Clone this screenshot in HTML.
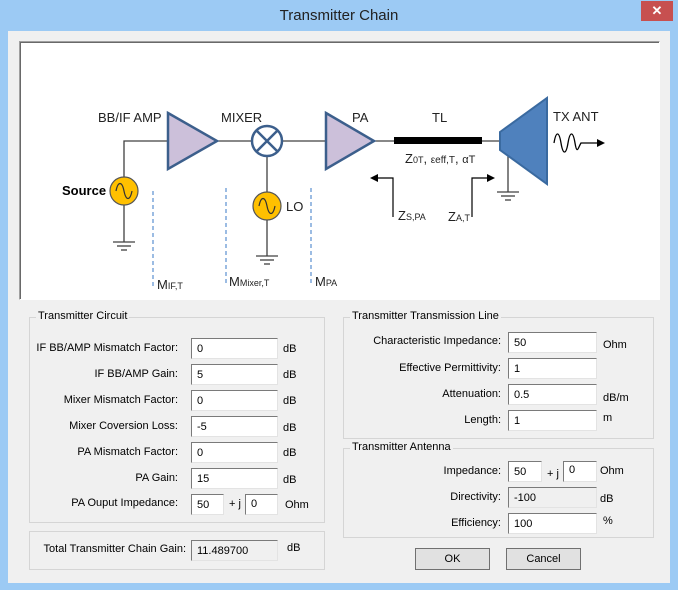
<!DOCTYPE html>
<html><head><meta charset="utf-8"><style>
*{margin:0;padding:0;box-sizing:border-box}
body{width:678px;height:590px;overflow:hidden;background:#9ccaf4;font-family:"Liberation Sans",sans-serif;font-size:11px;color:#000;position:relative}
.a{position:absolute}
.title{left:0;top:7px;width:678px;text-align:center;font-size:15px;color:#222}
.close{left:641px;top:1px;width:32px;height:20px;background:#c75050;color:#fff;text-align:center;font-size:13px;line-height:20px;font-weight:bold}
.client{left:8px;top:31px;width:662px;height:552px;background:#f0f0f0}
.panel{left:19px;top:41px;width:641px;height:259px;background:#fff;border:1px solid #a0a0a0;border-right-color:#fff;border-bottom-color:#fff;box-shadow:inset 1px 1px 0 #696969}
.grp{border:1px solid #d5d5d5}
.lg{background:#f0f0f0;padding:0 2px;top:-8px;left:6px;position:absolute}
.in{height:21px;background:#fff;border:1px solid #7a7a7a;border-right-color:#e3e3e3;border-bottom-color:#e3e3e3;padding:4px 0 0 5px}
.ro{background:#f0f0f0}
.lb{text-align:right}
.btn{height:22px;border:1px solid #707070;background:#e1e1e1;text-align:center;line-height:20px}
</style></head><body>
<div class="a title">Transmitter Chain</div>
<div class="a close">✕</div>
<div class="a client"></div>
<div class="a panel"></div>
<svg class="a" style="left:0;top:0" width="678" height="300" font-family="Liberation Sans, sans-serif">
<g stroke="#404040" stroke-width="1.3" fill="none">
<polyline points="168,141 124,141 124,177"/><line x1="124" y1="205" x2="124" y2="242"/>
<line x1="113" y1="242" x2="135" y2="242"/><line x1="117" y1="246" x2="131" y2="246"/><line x1="121" y1="250" x2="127" y2="250"/>
<line x1="217" y1="141" x2="252" y2="141"/><line x1="282" y1="141" x2="326" y2="141"/>
<line x1="267" y1="156" x2="267" y2="192"/><line x1="267" y1="220" x2="267" y2="256"/>
<line x1="256" y1="256" x2="278" y2="256"/><line x1="260" y1="260" x2="274" y2="260"/><line x1="264" y1="264" x2="270" y2="264"/>
<line x1="374" y1="141" x2="394" y2="141"/><line x1="482" y1="141" x2="500" y2="141"/>
<line x1="508" y1="150" x2="508" y2="192"/>
<line x1="497" y1="192" x2="519" y2="192"/><line x1="501" y1="196" x2="515" y2="196"/><line x1="505" y1="200" x2="511" y2="200"/>
</g>
<polygon points="168,113 217,141 168,169" fill="#ccc0da" stroke="#3c5f8c" stroke-width="2.5"/>
<polygon points="326,113 374,141 326,169" fill="#ccc0da" stroke="#3c5f8c" stroke-width="2.5"/>
<circle cx="267" cy="141" r="15" fill="#fff" stroke="#3c5f8c" stroke-width="2.5"/>
<path d="M256.5,130.5L277.5,151.5M277.5,130.5L256.5,151.5" stroke="#3c5f8c" stroke-width="2.5"/>
<g fill="#ffc000" stroke="#555" stroke-width="1.2"><circle cx="124" cy="191" r="14"/><circle cx="267" cy="206" r="14"/></g>
<g fill="none" stroke="#333" stroke-width="1.2"><path d="M116,191c2,-10 6,-10 8,0s6,10 8,0"/><path d="M259,206c2,-10 6,-10 8,0s6,10 8,0"/></g>
<g stroke="#5b8fd0" stroke-dasharray="4,3" stroke-width="1.2"><line x1="153" y1="191" x2="153" y2="286"/><line x1="226" y1="188" x2="226" y2="283"/><line x1="311" y1="188" x2="311" y2="283"/></g>
<rect x="394" y="137" width="88" height="7" fill="#000"/>
<polygon points="500,132 547,98 547,184 500,150" fill="#4f81bd" stroke="#3a6aa0" stroke-width="2"/>
<path d="M554,143c2,-12 5,-12 7,0s5,12 7,0s5,-12 7,0s3,5 6,0L600,143" fill="none" stroke="#000" stroke-width="1.3"/>
<polygon points="605,143 597,139 597,147"/>
<g stroke="#000" stroke-width="1.2" fill="none"><polyline points="393,217 393,178 375,178"/><polyline points="472,217 472,178 490,178"/></g>
<polygon points="370,178 378,174 378,182"/><polygon points="495,178 487,174 487,182"/>
<g font-size="13" fill="#222">
<text x="98" y="122">BB/IF AMP</text><text x="221" y="122">MIXER</text><text x="352" y="122">PA</text>
<text x="432" y="122">TL</text><text x="553" y="121">TX ANT</text>
<text x="62" y="195" font-weight="bold" fill="#000">Source</text><text x="286" y="211">LO</text>
<text x="157" y="289">M<tspan font-size="9">IF,T</tspan></text>
<text x="229" y="286">M<tspan font-size="9">Mixer,T</tspan></text>
<text x="315" y="286">M<tspan font-size="9">PA</tspan></text>
<text x="405" y="163">Z<tspan font-size="9">0T</tspan>, <tspan font-size="10">εeff,T</tspan>, <tspan font-size="11">αT</tspan></text>
<text x="398" y="220">Z<tspan font-size="9">S,PA</tspan></text>
<text x="448" y="221">Z<tspan font-size="9">A,T</tspan></text>
</g>
</svg>

<div class="a grp" style="left:29px;top:317px;width:296px;height:206px"><span class="lg">Transmitter Circuit</span></div>
<div class="a grp" style="left:29px;top:531px;width:296px;height:39px"></div>

<div class="a lb" style="left:20px;top:342px;width:158px">IF BB/AMP Mismatch Factor:</div>
<div class="a in" style="left:191px;top:338px;width:87px">0</div><div class="a" style="left:283px;top:343px">dB</div>
<div class="a lb" style="left:20px;top:368px;width:158px">IF BB/AMP Gain:</div>
<div class="a in" style="left:191px;top:364px;width:87px">5</div><div class="a" style="left:283px;top:369px">dB</div>
<div class="a lb" style="left:20px;top:394px;width:158px">Mixer Mismatch Factor:</div>
<div class="a in" style="left:191px;top:390px;width:87px">0</div><div class="a" style="left:283px;top:395px">dB</div>
<div class="a lb" style="left:20px;top:420px;width:158px">Mixer Coversion Loss:</div>
<div class="a in" style="left:191px;top:416px;width:87px">-5</div><div class="a" style="left:283px;top:422px">dB</div>
<div class="a lb" style="left:20px;top:446px;width:158px">PA Mismatch Factor:</div>
<div class="a in" style="left:191px;top:442px;width:87px">0</div><div class="a" style="left:283px;top:447px">dB</div>
<div class="a lb" style="left:20px;top:472px;width:158px">PA Gain:</div>
<div class="a in" style="left:191px;top:468px;width:87px">15</div><div class="a" style="left:283px;top:474px">dB</div>
<div class="a lb" style="left:20px;top:497px;width:158px">PA Ouput Impedance:</div>
<div class="a in" style="left:191px;top:494px;width:33px">50</div><div class="a" style="left:229px;top:498px">+ j</div>
<div class="a in" style="left:245px;top:494px;width:33px;padding-top:3px">0</div><div class="a" style="left:285px;top:499px">Ohm</div>
<div class="a lb" style="left:20px;top:543px;width:166px">Total Transmitter Chain Gain:</div>
<div class="a in ro" style="left:191px;top:540px;width:87px">11.489700</div><div class="a" style="left:287px;top:542px">dB</div>

<div class="a grp" style="left:343px;top:317px;width:311px;height:122px"><span class="lg">Transmitter Transmission Line</span></div>
<div class="a grp" style="left:343px;top:448px;width:311px;height:90px"><span class="lg">Transmitter Antenna</span></div>

<div class="a lb" style="left:340px;top:335px;width:161px">Characteristic Impedance:</div>
<div class="a in" style="left:508px;top:332px;width:89px">50</div><div class="a" style="left:603px;top:339px">Ohm</div>
<div class="a lb" style="left:340px;top:362px;width:161px">Effective Permittivity:</div>
<div class="a in" style="left:508px;top:358px;width:89px">1</div>
<div class="a lb" style="left:340px;top:388px;width:161px">Attenuation:</div>
<div class="a in" style="left:508px;top:384px;width:89px">0.5</div><div class="a" style="left:603px;top:392px">dB/m</div>
<div class="a lb" style="left:340px;top:414px;width:161px">Length:</div>
<div class="a in" style="left:508px;top:410px;width:89px">1</div><div class="a" style="left:603px;top:412px">m</div>
<div class="a lb" style="left:340px;top:465px;width:161px">Impedance:</div>
<div class="a in" style="left:508px;top:461px;width:34px">50</div><div class="a" style="left:547px;top:468px">+ j</div>
<div class="a in" style="left:563px;top:461px;width:34px;padding-top:2px">0</div><div class="a" style="left:600px;top:465px">Ohm</div>
<div class="a lb" style="left:340px;top:491px;width:161px">Directivity:</div>
<div class="a in ro" style="left:508px;top:487px;width:89px">-100</div><div class="a" style="left:600px;top:493px">dB</div>
<div class="a lb" style="left:340px;top:517px;width:161px">Efficiency:</div>
<div class="a in" style="left:508px;top:513px;width:89px">100</div><div class="a" style="left:603px;top:515px">%</div>

<div class="a btn" style="left:415px;top:548px;width:75px">OK</div>
<div class="a btn" style="left:506px;top:548px;width:75px">Cancel</div>
</body></html>
